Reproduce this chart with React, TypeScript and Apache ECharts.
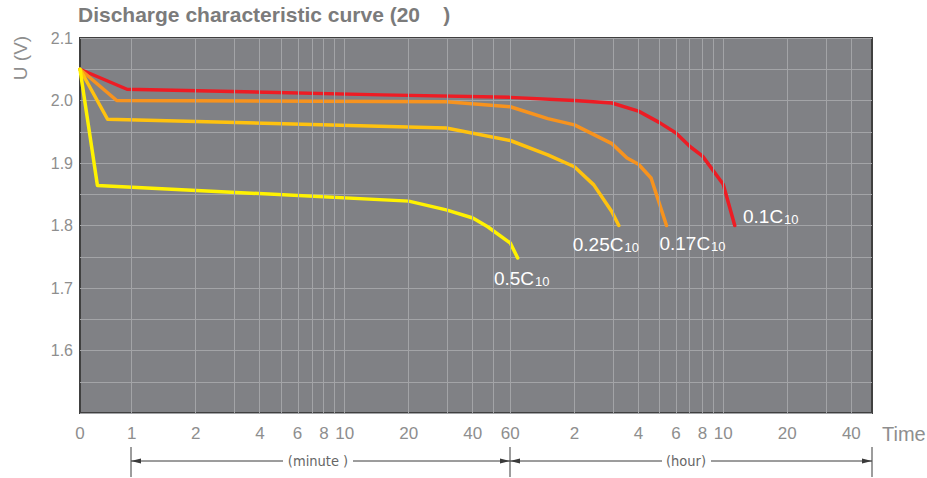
import React, { useEffect, useRef } from "react";
import * as echarts from "echarts";

const TITLE = "Discharge characteristic curve (20    )";
const Y_NAME = "U (V)";
const X_NAME = "Time";

// time in minutes, voltage in V
const RED_T = [0, 0.95, 15, 60, 120, 180, 240, 300, 360, 420, 480, 600, 680];
const RED_V = [2.05, 2.018, 2.009, 2.005, 2.0, 1.996, 1.983, 1.965, 1.948, 1.926, 1.911, 1.866, 1.8];
const ORANGE_T = [0, 0.85, 30, 60, 90, 120, 180, 212, 240, 275, 325];
const ORANGE_V = [2.05, 2.0, 1.998, 1.99, 1.971, 1.961, 1.931, 1.908, 1.898, 1.876, 1.8];
const AMBER_T = [0, 0.77, 30, 60, 90, 120, 148, 180, 194];
const AMBER_V = [2.05, 1.97, 1.956, 1.936, 1.913, 1.894, 1.865, 1.822, 1.8];
const YELLOW_T = [0, 0.69, 20, 30, 40, 47, 60, 65];
const YELLOW_V = [2.05, 1.864, 1.839, 1.825, 1.812, 1.798, 1.772, 1.748];

const RATE_MAIN = ["0.1C", "0.17C", "0.25C", "0.5C"];
const RATE_SUB = "10";

const X_TICK_MINUTES = [0, 1, 2, 4, 6, 8, 10, 20, 40, 60, 120, 240, 360, 480, 600, 1200, 2400];
const X_TICK_LABELS = ["0", "1", "2", "4", "6", "8", "10", "20", "40", "60", "2", "4", "6", "8", "10", "20", "40"];
const X_GRID_MINUTES = [1, 2, 3, 4, 5, 6, 7, 8, 9, 10, 20, 30, 40, 50, 60, 120, 180, 240, 300, 360, 420, 480, 540, 600, 1200, 1800, 2400];
const X_MAX_MINUTES = 3000;
const Y_TICKS = [1.6, 1.7, 1.8, 1.9, 2.0, 2.1];

const X_MIN = -0.243;
const toX = (t: number) => (t <= 0 ? X_MIN : Math.log10(t));

const FONT = "Liberation Sans";
const NARROW = "DejaVu Sans Condensed";
const LABEL_GRAY = "#8e8e8e";

export default function App() {
  const ref = useRef<HTMLDivElement>(null);
  useEffect(() => {
    if (!ref.current) return;
    const chart = echarts.init(ref.current, undefined, { renderer: "svg" });

    const curves = [
      { t: RED_T, v: RED_V, color: "#ed1c24", offset: [36, -11] },
      { t: ORANGE_T, v: ORANGE_V, color: "#f7931e", offset: [26, 16.5] },
      { t: AMBER_T, v: AMBER_V, color: "#ffc20e", offset: [-13, 17] },
      { t: YELLOW_T, v: YELLOW_V, color: "#fff200", offset: [4, 18.5] },
    ];

    const rich = {
      n: { color: "#ffffff", fontSize: 19, fontFamily: FONT, verticalAlign: "bottom", lineHeight: 22 },
      s: { color: "#ffffff", fontSize: 13, fontFamily: FONT, verticalAlign: "bottom", lineHeight: 22, padding: [0, 0, 0, 1] },
    };

    const series: any[] = [
      {
        type: "line",
        data: [],
        z: 1,
        silent: true,
        markLine: {
          silent: true,
          symbol: ["none", "none"],
          label: { show: false },
          lineStyle: { color: "#a3a4a7", width: 1, type: "solid" },
          data: X_GRID_MINUTES.map((t) => ({ xAxis: toX(t) })),
        },
      },
    ];

    curves.forEach((c, i) => {
      const data = c.t.map((t, k) => [toX(t), c.v[k]]);
      const last = data[data.length - 1];
      series.push({
        type: "line",
        name: RATE_MAIN[i] + RATE_SUB,
        data,
        z: 3,
        showSymbol: false,
        symbol: "none",
        lineStyle: { color: c.color, width: 3.5, join: "round", cap: "round" },
        itemStyle: { color: c.color },
        markPoint: {
          symbol: "circle",
          symbolSize: 1,
          itemStyle: { color: "rgba(0,0,0,0)" },
          label: {
            show: true,
            position: "inside",
            offset: c.offset,
            formatter: () => `{n|${RATE_MAIN[i]}}{s|${RATE_SUB}}`,
            rich,
          },
          data: [{ coord: last }],
        },
      });
    });

    const arrowColor = "#3a3a3a";
    const yLine = 461;
    const arrow = (x: number, dir: number) => ({
      type: "polygon",
      shape: { points: [[x, yLine], [x - dir * 10, yLine - 2.5], [x - dir * 10, yLine + 2.5]] },
      style: { fill: arrowColor },
    });
    const hline = (x1: number, x2: number) => ({
      type: "line",
      shape: { x1, y1: yLine, x2, y2: yLine },
      style: { stroke: arrowColor, lineWidth: 1 },
    });
    const vline = (x: number) => ({
      type: "line",
      shape: { x1: x, y1: 447, x2: x, y2: 477 },
      style: { stroke: arrowColor, lineWidth: 1 },
    });

    const option: any = {
      animation: false,
      backgroundColor: "#ffffff",
      title: {
        text: TITLE,
        left: 78,
        top: 4,
        padding: 0,
        textStyle: { fontFamily: FONT, fontSize: 21, fontWeight: "bold", color: "#7b7b7b" },
      },
      grid: {
        left: 80,
        top: 38,
        right: 55,
        bottom: 65,
        show: true,
        backgroundColor: "#808185",
        borderColor: "#404040",
        borderWidth: 2,
      },
      xAxis: {
        type: "value",
        min: X_MIN,
        max: toX(X_MAX_MINUTES),
        axisLine: { show: false },
        axisTick: { show: false },
        splitLine: { show: false },
        axisLabel: {
          customValues: X_TICK_MINUTES.map(toX),
          showMinLabel: true,
          showMaxLabel: true,
          margin: 12,
          color: LABEL_GRAY,
          fontSize: 17,
          fontFamily: FONT,
          formatter: (v: number) => {
            const idx = X_TICK_MINUTES.findIndex((t) => Math.abs(toX(t) - v) < 1e-6);
            return idx >= 0 ? X_TICK_LABELS[idx] : "";
          },
        },
      },
      yAxis: {
        type: "value",
        min: 1.5,
        max: 2.1,
        interval: 0.05,
        axisLine: { show: false },
        axisTick: { show: false },
        splitLine: { show: true, lineStyle: { color: "#a3a4a7", width: 1 } },
        axisLabel: {
          customValues: Y_TICKS,
          margin: 7,
          color: LABEL_GRAY,
          fontSize: 16,
          fontFamily: FONT,
          formatter: (v: number) => v.toFixed(1),
        },
      },
      graphic: [
        {
          type: "text",
          x: 20,
          y: 58,
          rotation: Math.PI / 2,
          style: { text: Y_NAME, fill: LABEL_GRAY, fontSize: 19, fontFamily: FONT, align: "center", verticalAlign: "middle" },
        },
        {
          type: "text",
          x: 882,
          y: 434,
          style: { text: X_NAME, fill: LABEL_GRAY, fontSize: 20, fontFamily: FONT, align: "left", verticalAlign: "middle" },
        },
        vline(131),
        vline(510),
        vline(872),
        hline(131, 283),
        hline(353, 510),
        hline(510, 662),
        hline(711, 872),
        arrow(131, -1),
        arrow(510, 1),
        arrow(510, -1),
        arrow(872, 1),
        {
          type: "text",
          x: 318,
          y: yLine,
          style: { text: "(minute )", fill: "#666666", fontSize: 14.5, fontFamily: NARROW, align: "center", verticalAlign: "middle" },
        },
        {
          type: "text",
          x: 686,
          y: yLine,
          style: { text: "(hour)", fill: "#666666", fontSize: 14.5, fontFamily: NARROW, align: "center", verticalAlign: "middle" },
        },
      ],
      series,
    };

    chart.setOption(option);
    return () => chart.dispose();
  }, []);

  return <div ref={ref} style={{ position: "fixed", left: 0, top: 0, width: 927, height: 478 }} />;
}
